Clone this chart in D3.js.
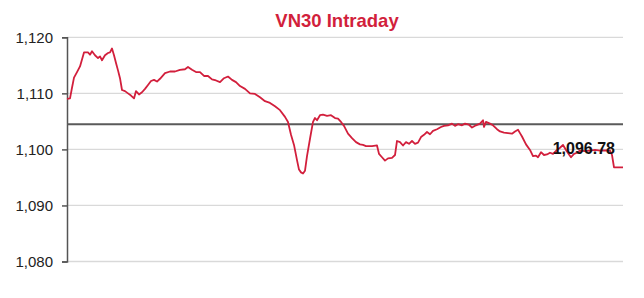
<!DOCTYPE html>
<html><head><meta charset="utf-8">
<script src="https://cdn.jsdelivr.net/npm/d3@7"></script>
<style>body{margin:0;background:#fff}svg{display:block}</style>
</head><body><svg id="c" width="644" height="298"></svg>
<script>
const title = "VN30 Intraday";
const yTicks = [1080, 1090, 1100, 1110, 1120];
const refLevel = 1104.5;
const lastLabel = "1,096.78";
const minutes = [0,1.5,2.5,3.5,5,6.5,8.5,10.5,11.5,12.5,14,15.5,16.5,17.5,19,20.5,21.5,22.5,23.5,24.5,25.5,26.5,27.5,29,30.5,32,33.5,34.5,36,37.5,39,40.5,42,43.5,45,46.5,49,51.5,54,56.5,59,60.5,62.5,64.5,66.5,68.5,70.5,72.5,74.5,76.5,78.5,80.5,82.5,84.5,86.5,89,91.5,94,96.5,99,101.5,104,
106.5,109,110.5,112,113.5,115,116,117,118,119,120,121.5,123,124,125,126.5,128,130,132,134,135.5,137,138.5,140.5,142.5,144.5,146.5,148,149.5,152.5,155,156,157.5,159,160.5,162.5,164,165,166.5,168,169.5,171,172.5,174,175.5,177,178.5,180,181.5,183,185,187,188.5,190.5,192.5,194,195.5,197.5,199,201,202.5,204.5,206.5,208,208.5,209.5,211.5,213,215,216.5,218.5,220.5,222.5,224,225.5,226.5,227.5,229.5,231.5,233,234.5,235.5,237,238.5,240,241.5,243,245,246.5,248,249.5,251,252,253.5,255,256.5,259,261.5,264,266.5,269,271.5,272.5,273.5,278];
const values = [1109.0,1109.1,1111.0,1112.8,1113.8,1114.8,1117.3,1117.3,1116.9,1117.5,1116.8,1116.3,1116.6,1115.9,1116.8,1117.2,1117.3,1118.0,1116.8,1115.4,1114.1,1112.7,1110.6,1110.4,1110.0,1109.6,1109.1,1110.4,1109.8,1110.2,1110.8,1111.5,1112.2,1112.4,1112.1,1112.6,1113.6,1113.9,1113.9,1114.2,1114.3,1114.7,1114.2,1113.8,1113.8,1113.1,1113.1,1112.5,1112.3,1112.0,1112.7,1113.0,1112.4,1112.0,1111.3,1110.8,1110.0,1109.9,1109.3,1108.6,1108.3,1107.7,
1107.0,1105.8,1104.9,1102.6,1100.8,1098.1,1096.4,1095.9,1095.7,1096.2,1098.8,1101.9,1104.9,1105.6,1105.2,1106.1,1106.2,1106.0,1106.1,1105.6,1105.5,1104.9,1104.2,1102.8,1102.0,1101.3,1100.9,1100.8,1100.6,1100.6,1100.7,1099.2,1098.6,1098.0,1098.4,1098.5,1099.0,1101.5,1101.3,1100.7,1101.3,1101.0,1101.5,1101.0,1101.2,1102.2,1102.6,1103.1,1102.7,1103.3,1103.6,1104.0,1104.2,1104.3,1104.6,1104.2,1104.5,1104.3,1104.6,1104.4,1103.9,1104.3,1104.6,1105.2,1104.0,1104.9,1104.6,1104.3,1103.6,1103.2,1103.0,1102.9,1102.8,1103.2,1103.5,1102.9,1102.3,1100.9,1099.9,1098.8,1098.9,1098.6,1099.5,1099.0,1099.1,1099.4,1099.2,1099.9,1100.3,1100.8,1099.9,1099.1,1098.6,1099.2,1099.4,1099.8,1099.7,1099.8,1099.9,1099.8,1099.8,1099.8,1099.0,1096.8,1096.78];

const svg = d3.select("#c");
const x = d3.scaleLinear().domain([0, 278]).range([67, 623]);
const y = d3.scaleLinear().domain([1080, 1120]).range([261.5, 37.3]);
const red = "#d21f3c";

svg.append("text").attr("x", 337).attr("y", 26.5).attr("text-anchor", "middle")
  .attr("font-family", "Liberation Sans, Arial, sans-serif").attr("font-weight", "bold")
  .attr("font-size", 18.5).attr("fill", red).text(title);

// gridlines
svg.append("g").selectAll("line").data(yTicks).join("line")
  .attr("x1", x(0)).attr("x2", x(278))
  .attr("y1", d => y(d)).attr("y2", d => y(d))
  .attr("stroke", "#d9d9d9").attr("stroke-width", 1.3);

// y axis
const ax = svg.append("g").attr("transform", `translate(${x(0)},0)`)
  .call(d3.axisLeft(y).tickValues(yTicks).tickSize(5).tickPadding(9).tickFormat(d3.format(",")));
ax.select(".domain").attr("stroke", "#555").attr("stroke-width", 1.5);
ax.selectAll(".tick line").attr("stroke", "#555").attr("stroke-width", 1.5);
ax.selectAll(".tick text").attr("font-family", "Liberation Sans, Arial, sans-serif")
  .attr("font-size", 15).attr("fill", "#222");

// reference line
svg.append("line").attr("x1", x(0)).attr("x2", x(278))
  .attr("y1", y(refLevel)).attr("y2", y(refLevel))
  .attr("stroke", "#5a5a5a").attr("stroke-width", 2);

const data = minutes.map((m, i) => [m, values[i]]);
svg.append("path").datum(data)
  .attr("d", d3.line().x(d => x(d[0])).y(d => y(d[1])))
  .attr("fill", "none").attr("stroke", red).attr("stroke-width", 1.8)
  .attr("stroke-linejoin", "round");

const last = data[data.length - 1];
svg.append("text").attr("x", x(last[0]) - 8).attr("y", y(last[1]) - 13)
  .attr("text-anchor", "end")
  .attr("font-family", "Liberation Sans, Arial, sans-serif").attr("font-weight", "bold")
  .attr("font-size", 16).attr("fill", "#111").text(lastLabel);
</script></body></html>
